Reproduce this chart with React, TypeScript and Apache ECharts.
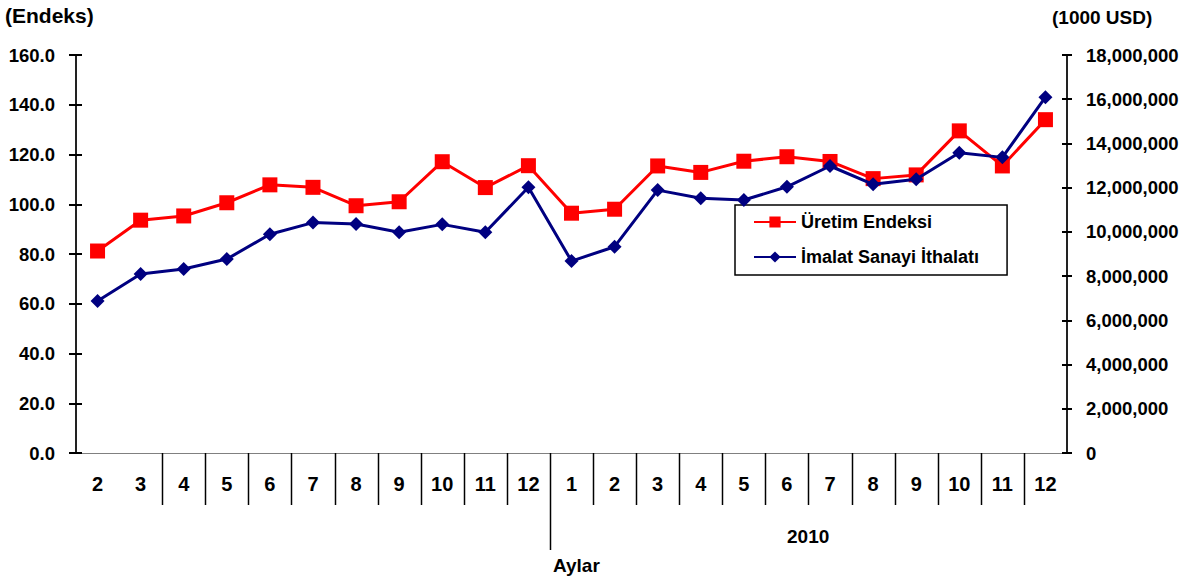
import React, { useEffect, useRef } from "react";
import * as echarts from "echarts";

const months = ["2", "3", "4", "5", "6", "7", "8", "9", "10", "11", "12", "1", "2", "3", "4", "5", "6", "7", "8", "9", "10", "11", "12"];
const uretimEndeksi = [81.2, 93.6, 95.3, 100.6, 107.8, 106.8, 99.4, 101.0, 117.1, 106.7, 115.5, 96.4, 98.0, 115.4, 112.8, 117.3, 119.1, 117.2, 110.3, 111.8, 129.5, 115.4, 134.0];
const imalatIthalati = [6870000, 8100000, 8320000, 8770000, 9890000, 10420000, 10360000, 9980000, 10340000, 9980000, 12020000, 8680000, 9330000, 11890000, 11520000, 11440000, 12040000, 12980000, 12150000, 12380000, 13580000, 13370000, 16090000];
const separators = [2, 3, 4, 5, 6, 7, 8, 9, 10, 11, 12, 13, 14, 15, 16, 17, 18, 19, 20, 21, 22];
const yearBreakIndex = 11;
const seriesNames = ["Üretim Endeksi", "İmalat Sanayi İthalatı"];

const FONT = "'Liberation Sans', Arial, sans-serif";

export default function App() {
  const ref = useRef<HTMLDivElement>(null);
  useEffect(() => {
    if (!ref.current) return;
    const chart = echarts.init(ref.current, null, { renderer: "svg" });
    const valueLabel = { fontFamily: FONT, fontWeight: "bold" as const, fontSize: 18.5, color: "#000" };
    const catLabel = { fontFamily: FONT, fontWeight: "bold" as const, fontSize: 20, color: "#000" };
    const option: any = {
      animation: false,
      backgroundColor: "#fff",
      grid: { left: 76, right: 128, top: 55, bottom: 128 },
      legend: {
        left: 735,
        top: 205,
        orient: "vertical",
        data: seriesNames,
        backgroundColor: "#fff",
        borderColor: "#000",
        borderWidth: 1.5,
        borderRadius: 0,
        padding: [8, 28, 9, 18],
        itemWidth: 42,
        itemHeight: 14,
        itemGap: 17,
        textStyle: { fontFamily: FONT, fontWeight: "bold", fontSize: 18, color: "#000" },
      },
      xAxis: [
        {
          type: "category",
          data: months,
          boundaryGap: true,
          position: "bottom",
          axisLine: { show: true, lineStyle: { color: "#000", width: 1.2 } },
          axisTick: { show: false },
          axisLabel: { ...catLabel, margin: 21, interval: 0 },
          splitLine: { show: false },
        },
        {
          type: "category",
          data: months,
          boundaryGap: true,
          position: "top",
          axisLine: { show: true, lineStyle: { color: "#808080", width: 1 } },
          axisTick: { show: false },
          axisLabel: { show: false },
          splitLine: { show: false },
        },
      ],
      yAxis: [
        {
          type: "value",
          position: "left",
          min: 0,
          max: 160,
          interval: 20,
          axisLine: { show: true, lineStyle: { color: "#222", width: 2 } },
          axisTick: { show: true, inside: false, length: 7, lineStyle: { color: "#000", width: 2 } },
          axisLabel: { ...valueLabel, margin: 21, formatter: (v: number) => v.toFixed(1) },
          splitLine: { show: false },
        },
        {
          type: "value",
          position: "right",
          min: 0,
          max: 18000000,
          interval: 2000000,
          axisLine: { show: true, lineStyle: { color: "#222", width: 2 } },
          axisTick: { show: true, inside: false, length: 5, lineStyle: { color: "#000", width: 2 } },
          axisLabel: { ...valueLabel, margin: 19, formatter: (v: number) => v.toLocaleString("en-US") },
          splitLine: { show: false },
        },
        {
          type: "value",
          position: "left",
          min: 0,
          max: 160,
          interval: 20,
          axisLine: { show: false },
          axisTick: { show: true, inside: true, length: 6, lineStyle: { color: "#000", width: 2 } },
          axisLabel: { show: false },
          splitLine: { show: false },
        },
        {
          type: "value",
          position: "right",
          min: 0,
          max: 18000000,
          interval: 2000000,
          axisLine: { show: false },
          axisTick: { show: true, inside: true, length: 5, lineStyle: { color: "#000", width: 2 } },
          axisLabel: { show: false },
          splitLine: { show: false },
        },
      ],
      series: [
        {
          name: seriesNames[0],
          type: "line",
          xAxisIndex: 0,
          yAxisIndex: 0,
          data: uretimEndeksi,
          symbol: "rect",
          symbolSize: 15,
          lineStyle: { color: "#ff0000", width: 3 },
          itemStyle: { color: "#ff0000" },
          z: 3,
        },
        {
          name: seriesNames[1],
          type: "line",
          xAxisIndex: 0,
          yAxisIndex: 1,
          data: imalatIthalati,
          symbol: "diamond",
          symbolSize: 14,
          lineStyle: { color: "#000080", width: 3 },
          itemStyle: { color: "#000080" },
          z: 4,
        },
        {
          name: "separators",
          type: "custom",
          xAxisIndex: 0,
          yAxisIndex: 0,
          clip: false,
          silent: true,
          data: separators.map((i) => [i, 0]),
          encode: { x: 0, y: 1 },
          renderItem: (params: any, api: any) => {
            const idx = api.value(0);
            const c = api.coord([idx, 0]);
            const bw = api.size([1, 0])[0];
            const x = Math.round(c[0] - bw / 2) + 0.5;
            const len = idx === yearBreakIndex ? 97 : 52;
            return {
              type: "line",
              shape: { x1: x, y1: c[1], x2: x, y2: c[1] + len },
              style: { stroke: "#000", lineWidth: 1.5 },
            };
          },
        },
      ],
      graphic: [
        { type: "text", left: 5, top: 5, style: { text: "(Endeks)", font: `bold 21px ${FONT}`, fill: "#000" } },
        { type: "text", left: 1052, top: 8, style: { text: "(1000 USD)", font: `bold 19px ${FONT}`, fill: "#000" } },
        { type: "text", left: 553, top: 556, style: { text: "Aylar", font: `bold 19px ${FONT}`, fill: "#000" } },
        { type: "text", left: 787, top: 527, style: { text: "2010", font: `bold 19px ${FONT}`, fill: "#000" } },
      ],
    };
    chart.setOption(option);
    return () => chart.dispose();
  }, []);
  return (
    <div
      ref={ref}
      style={{ position: "fixed", left: 0, top: 0, width: 1195, height: 581, background: "#fff" }}
    />
  );
}
